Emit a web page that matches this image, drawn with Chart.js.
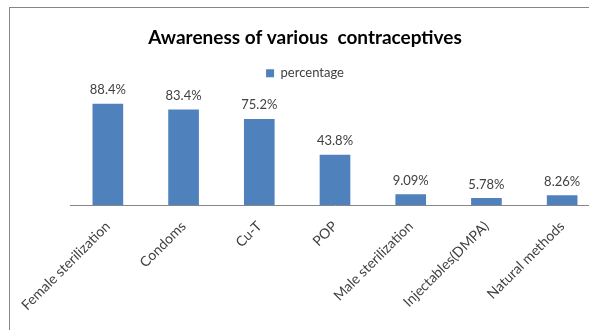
<!DOCTYPE html>
<html>
<head>
<meta charset="utf-8">
<script src="https://cdn.jsdelivr.net/npm/chart.js@4/dist/chart.umd.min.js"></script>
<style>
  html, body { margin: 0; padding: 0; background: #fff; overflow: hidden; }
  #marco {
    position: absolute; left: 9px; top: 7px;
    width: 590px; height: 330px;
    border-left: 1px solid #868686; border-top: 1px solid #868686;
  }
  #miGrafico { display: block; }
</style>
</head>
<body>
<div id="marco"><canvas id="miGrafico" width="590" height="322"></canvas></div>
<script>
// datos del grafico
const etiquetas = ['Female sterilization', 'Condoms', 'Cu-T', 'POP', 'Male sterilization', 'Injectables(DMPA)', 'Natural methods']
const valores = [88.4, 83.4, 75.2, 43.8, 9.09, 5.78, 8.26]
const nombreSerie = 'percentage'
const titulo = 'Awareness of various  contraceptives'

// dibuja el valor encima de cada barra
const etiquetasBarras = {
    id: 'etiquetasBarras',
    afterDatasetsDraw(chart) {
        const ctx = chart.ctx
        const meta = chart.getDatasetMeta(0)
        ctx.save()
        ctx.font = '13px Lato'
        ctx.fillStyle = '#404040'
        ctx.textAlign = 'center'
        ctx.textBaseline = 'middle'
        meta.data.forEach((barra, i) => {
            ctx.fillText(valores[i] + '%', barra.x, barra.y - 14)
        })
        ctx.restore()
    }
}

const contenedor = document.getElementById('miGrafico').getContext('2d')
window.miChart = new Chart(contenedor, {
    type: 'bar',
    data: {
        labels: etiquetas,
        datasets: [{
            label: nombreSerie,
            data: valores,
            backgroundColor: '#4F81BD',
            barThickness: 30
        }]
    },
    options: {
        responsive: false,
        animation: false,
        layout: { padding: 0 },
        plugins: {
            title: {
                display: true,
                text: titulo,
                color: '#000',
                font: { family: 'Lato', size: 19, weight: 'bold' },
                padding: { top: 18, bottom: 5 }
            },
            legend: {
                display: true,
                labels: {
                    boxWidth: 8,
                    boxHeight: 8,
                    padding: 13,
                    color: '#404040',
                    font: { family: 'Lato', size: 13 }
                }
            },
            tooltip: { enabled: false }
        },
        scales: {
            x: {
                grid: { display: false },
                border: { display: true, color: '#868686' },
                ticks: {
                    color: '#404040',
                    font: { family: 'Lato', size: 14 },
                    minRotation: 45,
                    maxRotation: 45,
                    padding: 5
                },
                afterFit: (s) => { s.height = 125 }
            },
            y: {
                min: 0,
                max: 101,
                grid: { display: false },
                border: { display: false },
                ticks: { display: false },
                afterFit: (s) => { s.width = 60 }
            }
        }
    },
    plugins: [etiquetasBarras]
})
</script>
</body>
</html>
